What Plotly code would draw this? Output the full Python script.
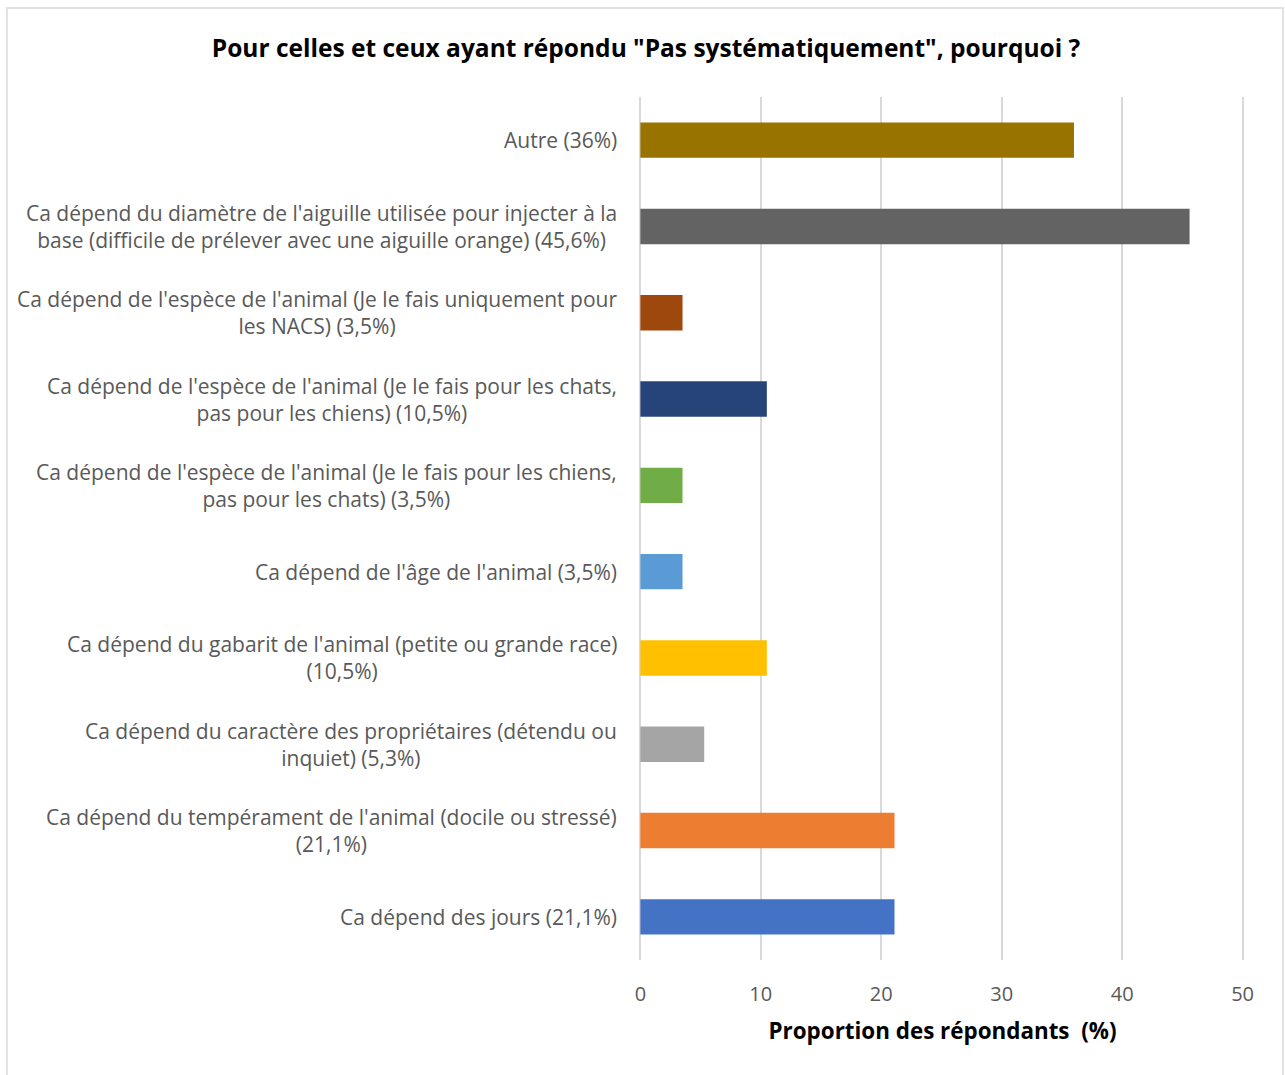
import plotly.graph_objects as go

# Survey answers, bottom to top as drawn on the category axis
categories = [
    "Ca dépend des jours (21,1%)",
    "Ca dépend du tempérament de l'animal (docile ou stressé)<br>(21,1%)",
    "Ca dépend du caractère des propriétaires (détendu ou<br>inquiet) (5,3%)",
    "Ca dépend du gabarit de l'animal (petite ou grande race)<br>(10,5%)",
    "Ca dépend de l'âge de l'animal (3,5%)",
    "Ca dépend de l'espèce de l'animal (Je le fais pour les chiens,<br>pas pour les chats) (3,5%)",
    "Ca dépend de l'espèce de l'animal (Je le fais pour les chats,<br>pas pour les chiens) (10,5%)",
    "Ca dépend de l'espèce de l'animal (Je le fais uniquement pour<br>les NACS) (3,5%)",
    "Ca dépend du diamètre de l'aiguille utilisée pour injecter à la<br>base (difficile de prélever avec une aiguille orange) (45,6%)",
    "Autre (36%)",
]
values = [21.1, 21.1, 5.3, 10.5, 3.5, 3.5, 10.5, 3.5, 45.6, 36.0]
colors = ["#4472C4", "#ED7D31", "#A5A5A5", "#FFC000", "#5B9BD5",
          "#70AD47", "#264478", "#9E480E", "#636363", "#997300"]
x_ticks = [0, 10, 20, 30, 40, 50]

FONT = "Open Sans"
W, H = 1285, 1075
L, R, T, B = 640, 40, 97, 115
pw = W - L - R
ph = H - T - B

fig = go.Figure(go.Bar(
    x=values,
    y=categories,
    orientation="h",
    marker=dict(color=colors, line=dict(width=0)),
    hoverinfo="x+y",
))

# Category labels: right-aligned block, centered lines
for cat in categories:
    fig.add_annotation(
        x=0, xref="paper", y=cat, yref="y",
        text=cat, showarrow=False,
        xanchor="right", align="center", xshift=-21,
        font=dict(family=FONT, size=21, color="#595959"),
    )

# Outer chart frame
fig.add_shape(
    type="rect", xref="paper", yref="paper",
    x0=(7 - L) / pw, x1=(1283 - L) / pw,
    y0=(H - 1080 - B) / ph, y1=(H - 8 - B) / ph,
    line=dict(color="#D9D9D9", width=1.5), fillcolor="rgba(0,0,0,0)",
    layer="below",
)

fig.update_layout(
    width=W, height=H,
    margin=dict(l=L, r=R, t=T, b=B),
    paper_bgcolor="white", plot_bgcolor="white",
    bargap=0.59,
    showlegend=False,
    title=dict(
        text="<b>Pour celles et ceux ayant répondu \"Pas systématiquement\", pourquoi ?</b>",
        x=(646) / W, xanchor="center", y=1 - 48 / H, yanchor="middle",
        font=dict(family=FONT, size=24.5, color="#000000"),
    ),
    xaxis=dict(
        range=[-0.03, 50.2], tickvals=x_ticks, ticktext=[str(t) for t in x_ticks],
        showgrid=True, gridcolor="#D9D9D9", gridwidth=1.5,
        zeroline=True, zerolinecolor="#D9D9D9", zerolinewidth=1.5,
        showline=False, ticks="",
        tickfont=dict(family=FONT, size=20, color="#595959"),
        ticklabelstandoff=20,
        title=dict(text="<b>Proportion des répondants  (%)</b>",
                   font=dict(family=FONT, size=22.4, color="#000000"),
                   standoff=17),
    ),
    yaxis=dict(
        showticklabels=False, showgrid=False, zeroline=False,
        showline=False, ticks="",
    ),
)

fig.write_html("out.html")
